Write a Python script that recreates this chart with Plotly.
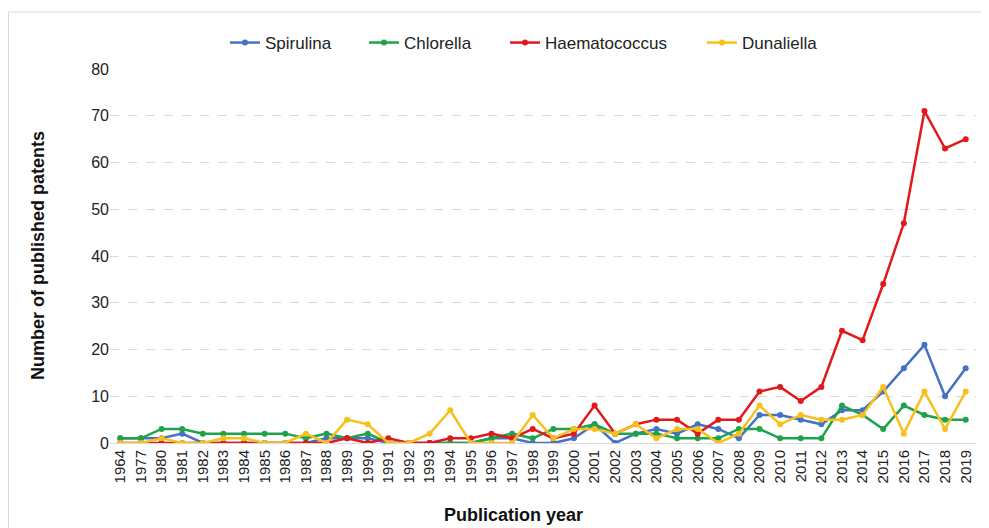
import plotly.graph_objects as go

years = ["1964", "1977"] + [str(y) for y in range(1980, 2020)]

spirulina = [1, 1, 1, 2, 0, 0, 0, 0, 0, 0, 1, 1, 1, 0, 0, 0, 0, 0, 1, 1, 0, 0, 1, 4, 0, 2,
             3, 2, 4, 3, 1, 6, 6, 5, 4, 7, 7, 11, 16, 21, 10, 16]
chlorella = [1, 1, 3, 3, 2, 2, 2, 2, 2, 1, 2, 1, 2, 0, 0, 0, 0, 0, 1, 2, 1, 3, 3, 4, 2, 2,
             2, 1, 1, 1, 3, 3, 1, 1, 1, 8, 6, 3, 8, 6, 5, 5]
haematococcus = [0, 0, 0, 0, 0, 0, 0, 0, 0, 0, 0, 1, 0, 1, 0, 0, 1, 1, 2, 1, 3, 1, 2, 8, 2, 4,
                 5, 5, 2, 5, 5, 11, 12, 9, 12, 24, 22, 34, 47, 71, 63, 65]
dunaliella = [0, 0, 1, 0, 0, 1, 1, 0, 0, 2, 0, 5, 4, 0, 0, 2, 7, 0, 0, 0, 6, 1, 3, 3, 2, 4,
              1, 3, 3, 0, 2, 8, 4, 6, 5, 5, 6, 12, 2, 11, 3, 11]

series = [
    ("Spirulina", spirulina, "#4472C4"),
    ("Chlorella", chlorella, "#1FA34A"),
    ("Haematococcus", haematococcus, "#E0191C"),
    ("Dunaliella", dunaliella, "#F7C01B"),
]

# page is offset by the default 8px body margin; figure coordinates below
FW, FH = 981, 520
L, T, W, H = 102, 61, 866, 374
R, B = FW - L - W, FH - T - H

legend_names = ["legend", "legend2", "legend3", "legend4"]
legend_left = [217, 356, 497, 694]

fig = go.Figure()
for (name, vals, col), lg in zip(series, legend_names):
    fig.add_trace(go.Scatter(
        x=years, y=vals, name=name, mode="lines+markers",
        line=dict(color=col, width=2.5),
        marker=dict(color=col, size=6),
        legend=lg,
    ))

layout_legends = {}
for lg, lx in zip(legend_names, legend_left):
    layout_legends[lg] = dict(
        orientation="h", x=(lx - L) / W, xanchor="left",
        y=(T + H - 35) / H, yanchor="middle",
        font=dict(size=17, color="#222222"), bgcolor="rgba(0,0,0,0)",
    )

fig.update_layout(
    width=FW, height=FH,
    paper_bgcolor="white", plot_bgcolor="white",
    margin=dict(l=L, r=R, t=T, b=B),
    font=dict(family="Liberation Sans, Arial, sans-serif", size=15, color="#222222"),
    showlegend=True,
    **layout_legends,
)
fig.update_xaxes(
    type="category", range=[-0.5, len(years) - 0.5], tickangle=-90,
    showgrid=False, automargin=False,
    showline=True, linecolor="#D9D9D9", linewidth=1,
    ticks="", tickfont=dict(size=15, color="#222222"),
)
fig.update_yaxes(
    range=[0, 80], dtick=10, showgrid=True, gridcolor="#D9D9D9", griddash="dash",
    zeroline=False, ticks="", automargin=False, tickfont=dict(size=16, color="#222222"),
)
fig.add_annotation(text="<b>Number of published patents</b>", textangle=-90,
                   xref="paper", yref="paper", x=(30 - L) / W, y=0.5,
                   xanchor="center", yanchor="middle", showarrow=False,
                   font=dict(size=18, color="#111111"))
fig.add_annotation(text="<b>Publication year</b>",
                   xref="paper", yref="paper", x=(505 - L) / W, y=(T + H - 507) / H,
                   xanchor="center", yanchor="middle", showarrow=False,
                   font=dict(size=18, color="#111111"))
fig.add_shape(type="rect", xref="paper", yref="paper",
              x0=(0.5 - L) / W, x1=(980 - L) / W,
              y0=(T + H - 540) / H, y1=(T + H - 4) / H,
              line=dict(color="#D9D9D9", width=1), fillcolor="rgba(0,0,0,0)", layer="below")

fig.write_html("out.html")
